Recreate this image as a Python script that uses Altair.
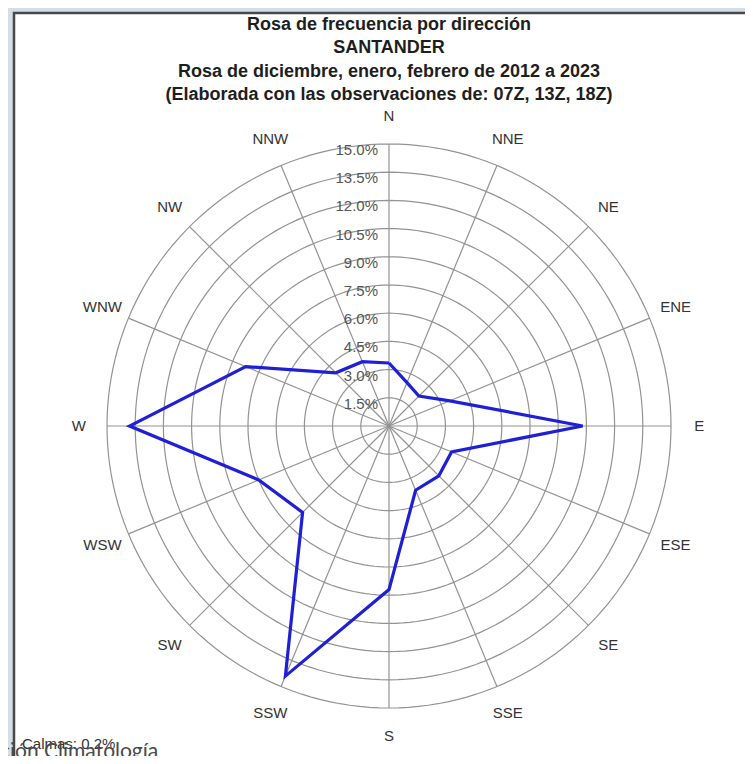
import altair as alt
import pandas as pd
import numpy as np

# ---- data ----
directions = ["N", "NNE", "NE", "ENE", "E", "ESE", "SE", "SSE",
              "S", "SSW", "SW", "WSW", "W", "WNW", "NW", "NNW"]
frequency = [3.35, 2.5, 2.25, 3.5, 10.3, 3.6, 3.75, 3.7,
             8.7, 14.4, 6.5, 7.5, 13.8, 8.25, 4.0, 3.7]
ring_values = [1.5, 3.0, 4.5, 6.0, 7.5, 9.0, 10.5, 12.0, 13.5, 15.0]
ring_labels = ["1.5%", "3.0%", "4.5%", "6.0%", "7.5%", "9.0%",
               "10.5%", "12.0%", "13.5%", "15.0%"]
title_lines = ["Rosa de frecuencia por dirección",
               "SANTANDER",
               "Rosa de diciembre, enero, febrero de 2012 a 2023",
               "(Elaborada con las observaciones de: 07Z, 13Z, 18Z)"]
calm_label = "Calmas: 0.2%"
footer_text = "ción Climatología"

# ---- derived tables ----
step = 360 / len(directions)
angles = [i * step for i in range(len(directions))]
outer = ring_values[-1]
label_radius = 16.5

rose_df = pd.DataFrame({
    "dir": directions + [directions[0]],
    "freq": frequency + [frequency[0]],
    "angle": angles + [360.0],
    "order": list(range(len(directions) + 1)),
})
ring_df = pd.DataFrame([{"ring": r, "angle": float(a)}
                        for r in ring_values for a in np.arange(0, 362, 2)])
spoke_df = pd.DataFrame({"dir": directions, "angle": angles, "r": outer})
dirlab_df = pd.DataFrame({"dir": directions, "angle": angles, "r": label_radius})
radial_df = pd.DataFrame({"value": ring_values, "label": ring_labels, "zero": 0.0})

W, H = 737, 748
PX = 18.8  # pixels per percent
cx, cy = 381, 418
xscale = alt.Scale(domain=[-cx / PX, (W - cx) / PX], nice=False, zero=False)
yscale = alt.Scale(domain=[(cy - H) / PX, cy / PX], nice=False, zero=False)

FONT = "Liberation Sans"
GRID = "#939393"


def polar(chart, rfield):
    return chart.transform_calculate(
        px=f"datum.{rfield}*sin(datum.angle*PI/180)",
        py=f"datum.{rfield}*cos(datum.angle*PI/180)",
    )


X = alt.X("px:Q", scale=xscale, axis=None)
Y = alt.Y("py:Q", scale=yscale, axis=None)

frame = alt.Chart(pd.DataFrame({"a": [0]})).mark_rect(
    fill="white", stroke="#484848", strokeWidth=2.5
).encode(x=alt.value(6), x2=alt.value(760), y=alt.value(5), y2=alt.value(752))

rings = polar(alt.Chart(ring_df), "ring").mark_line(
    color=GRID, strokeWidth=1.2
).encode(x=X, y=Y, detail="ring:N", order="angle:Q")

spokes = polar(alt.Chart(spoke_df), "r").transform_calculate(
    zx="0", zy="0"
).mark_rule(color=GRID, strokeWidth=1.2).encode(
    x=X, y=Y, x2="zx:Q", y2="zy:Q"
)

radial_text = alt.Chart(radial_df).mark_text(
    align="right", baseline="middle", dx=-11, dy=6, fontSize=15,
    font=FONT, color="#555555"
).encode(
    x=alt.X("zero:Q", scale=xscale, axis=None),
    y=alt.Y("value:Q", scale=yscale, axis=None),
    text="label:N",
)

rose = polar(alt.Chart(rose_df), "freq").mark_line(
    color="#1f1fd6", strokeWidth=3.2, strokeJoin="miter"
).encode(x=X, y=Y, order="order:Q")

dir_text = polar(alt.Chart(dirlab_df), "r").mark_text(
    fontSize=15, font=FONT, color="#333333", baseline="middle"
).encode(x=X, y=Y, text="dir:N")

title_y = [17, 40, 64, 87]
titles = [
    alt.Chart(pd.DataFrame({"t": [line]})).mark_text(
        fontSize=18, fontWeight="bold", font=FONT, color="#1e1e1e",
        baseline="middle", align="center"
    ).encode(x=alt.value(cx), y=alt.value(yv), text="t:N")
    for line, yv in zip(title_lines, title_y)
]

calm = alt.Chart(pd.DataFrame({"t": [calm_label]})).mark_text(
    fontSize=15, font=FONT, color="#333333", align="left", baseline="middle"
).encode(x=alt.value(14), y=alt.value(736), text="t:N")

footer = alt.Chart(pd.DataFrame({"t": [footer_text]})).mark_text(
    fontSize=21, font="Lato", color="#4a4a4a", align="left", baseline="alphabetic"
).encode(x=alt.value(-8), y=alt.value(750), text="t:N")

chart = alt.layer(
    frame, rings, spokes, radial_text, rose, dir_text, *titles, calm, footer
).properties(
    width=W, height=H, padding=0,
    autosize=alt.AutoSizeParams(type="none"),
    background="#d5dde7",
).configure_view(stroke=None)

chart.save("out.html", embed_options={"renderer": "svg", "actions": False})
